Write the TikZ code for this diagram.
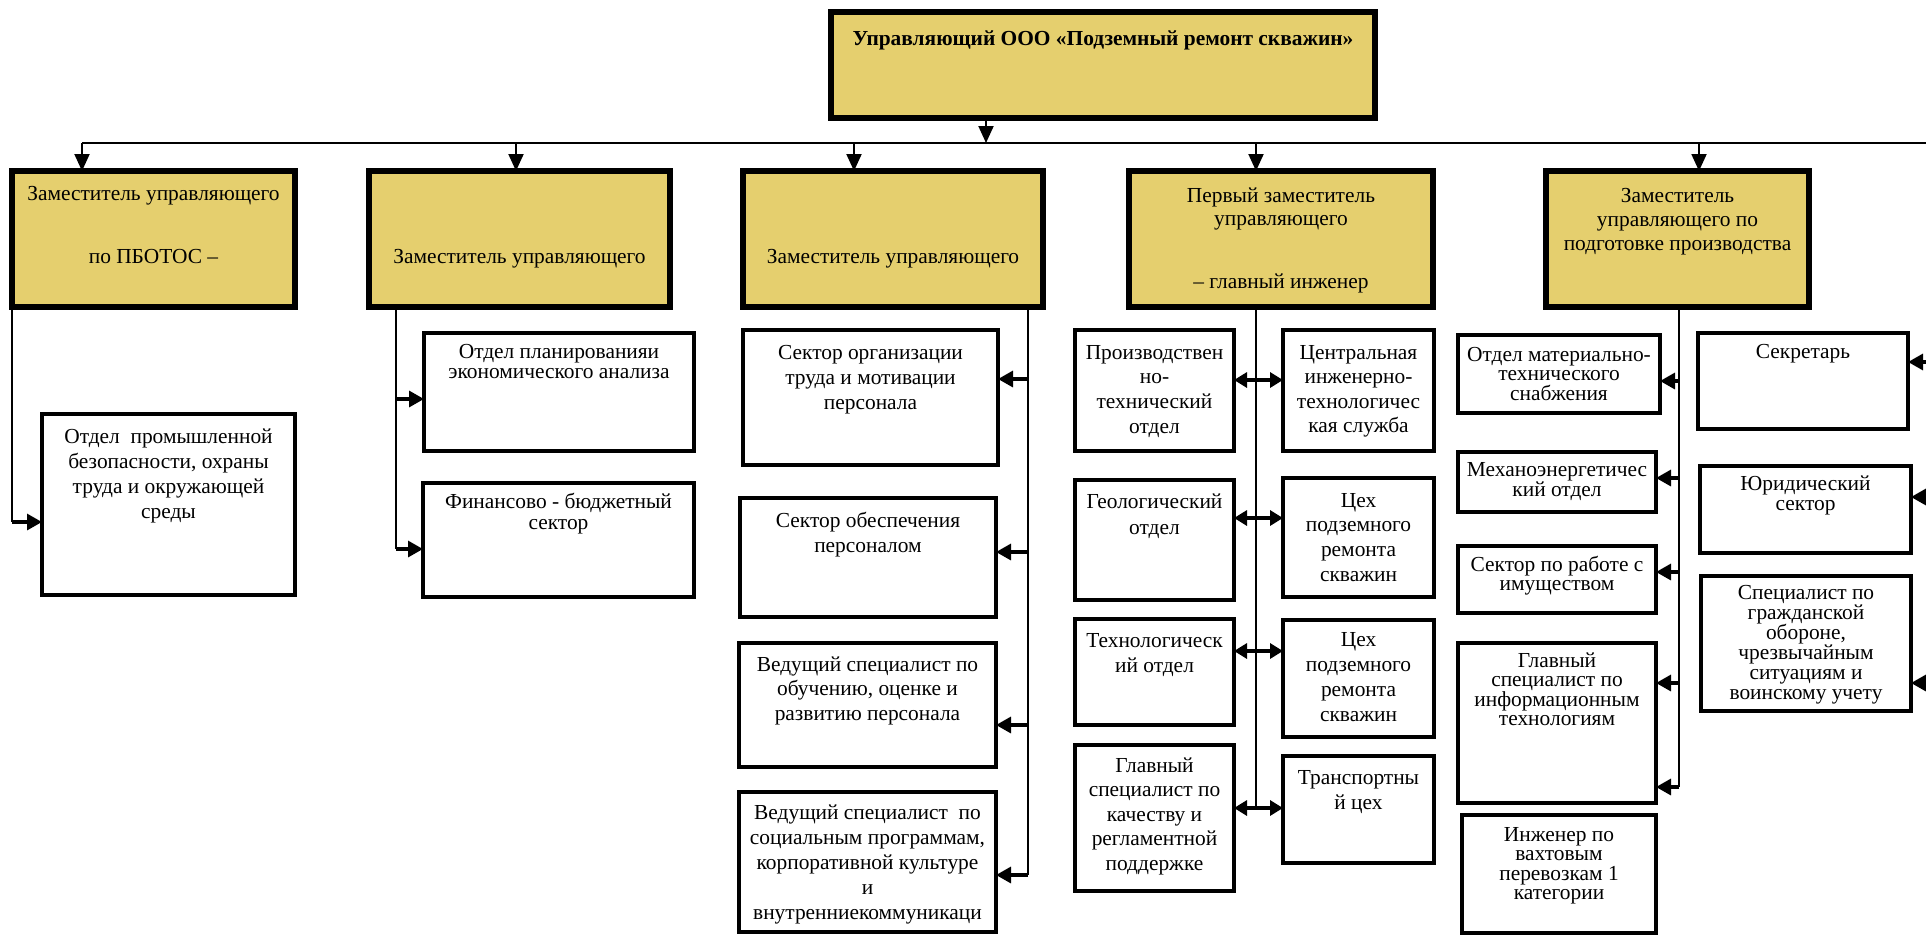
\documentclass[tikz,border=0pt]{standalone}
\usepackage{fontspec}
\setmainfont{Liberation Serif}
\usetikzlibrary{arrows.meta}
\definecolor{gold}{RGB}{229,207,110}
\tikzset{
 gbox/.style={draw=black, line width=6pt, fill=gold},
 wbox/.style={draw=black, line width=4.5pt, fill=white},
 busline/.style={line width=1.5pt},
 vthick/.style={line width=2.2pt},
 vthin/.style={line width=1.3pt},
 darr/.style={line width=2pt, -{Triangle[length=17pt,width=15pt]}},
 sarr/.style={line width=3.2pt, -{Triangle[length=15pt,width=16pt]}},
 dbl/.style={line width=3.2pt, {Triangle[length=13pt,width=15pt]}-{Triangle[length=13pt,width=15pt]}},
}
% style, name, x1, y1, x2, y2, first baseline, baselineskip, text
\newcommand\tbox[9]{%
 \node[#1, anchor=north west, inner sep=0pt, outer sep=0pt] (#2) at (#3,#4)
 {\parbox[t][\dimexpr #6pt-#4pt\relax][t]{\dimexpr #5pt-#3pt\relax}{\centering\lineskiplimit=-100pt\hyphenpenalty=10000\fontsize{21.4pt}{#8pt}\selectfont\vspace*{\dimexpr #7pt-#4pt-20pt\relax}\rule{0pt}{20pt}#9\par}};}
\begin{document}
\begin{tikzpicture}[x=1pt,y=-1pt]
\useasboundingbox (0,0) rectangle (1926,935);
% gold boxes
\tbox{gbox}{top}{831}{12}{1375}{118}{45}{25}{\textbf{Управляющий ООО «Подземный ремонт скважин»}}
\tbox{gbox}{g1}{12}{171}{295}{307}{200}{63}{Заместитель управляющего\\по ПБОТОС –}
\tbox{gbox}{g2}{369}{171}{670}{307}{263}{25}{Заместитель управляющего}
\tbox{gbox}{g3}{743}{171}{1043}{307}{263}{25}{Заместитель управляющего}
\tbox{gbox}{g4}{1129}{171}{1433}{307}{202}{23.5}{Первый заместитель\\управляющего\\[39pt]– главный инженер}
\tbox{gbox}{g5}{1546}{171}{1809}{307}{202}{24}{Заместитель\\управляющего по\\подготовке производства}
% column 1
\tbox{wbox}{p1}{42}{414}{295}{595}{443}{25}{Отдел\ \ промышленной\\безопасности, охраны\\труда и окружающей\\среды}
% column 2
\tbox{wbox}{p2a}{424}{333}{694}{451}{358}{20}{Отдел планированияи\\экономического анализа}
\tbox{wbox}{p2b}{423}{483}{694}{597}{508}{21}{Финансово - бюджетный\\сектор}
% column 3
\tbox{wbox}{p3a}{743}{330}{998}{465}{359}{25}{Сектор организации\\труда и мотивации\\персонала}
\tbox{wbox}{p3b}{740}{498}{996}{617}{527}{25}{Сектор обеспечения\\персоналом}
\tbox{wbox}{p3c}{739}{643}{996}{767}{671}{24.5}{Ведущий специалист по\\обучению, оценке и\\развитию персонала}
\tbox{wbox}{p3d}{739}{792}{996}{932}{819}{25}{Ведущий специалист\ \ по\\социальным программам,\\корпоративной культуре\\и\\внутренниекоммуникаци}
% column 4
\tbox{wbox}{p4a}{1075}{330}{1234}{451}{359}{24.7}{Производствен\\но-\\технический\\отдел}
\tbox{wbox}{q4a}{1283}{330}{1434}{451}{359}{24.5}{Центральная\\инженерно-\\технологичес\\кая служба}
\tbox{wbox}{p4b}{1075}{480}{1234}{600}{508}{26}{Геологический\\отдел}
\tbox{wbox}{q4b}{1283}{478}{1434}{597}{507}{24.7}{Цех\\подземного\\ремонта\\скважин}
\tbox{wbox}{p4c}{1075}{619}{1234}{725}{647}{25}{Технологическ\\ий отдел}
\tbox{wbox}{q4c}{1283}{620}{1434}{737}{646}{25}{Цех\\подземного\\ремонта\\скважин}
\tbox{wbox}{p4d}{1075}{745}{1234}{891}{772}{24.5}{Главный\\специалист по\\качеству и\\регламентной\\поддержке}
\tbox{wbox}{q4d}{1283}{756}{1434}{863}{784}{25}{Транспортны\\й цех}
% column 5
\tbox{wbox}{p5a}{1458}{335}{1660}{413}{361}{19.5}{Отдел материально-\\технического\\снабжения}
\tbox{wbox}{p5b}{1458}{452}{1656}{512}{476}{20}{Механоэнергетичес\\кий отдел}
\tbox{wbox}{p5c}{1458}{546}{1656}{613}{571}{19.5}{Сектор по работе с\\имуществом}
\tbox{wbox}{p5d}{1458}{643}{1656}{803}{667}{19.5}{Главный\\специалист по\\информационным\\технологиям}
\tbox{wbox}{p5e}{1462}{815}{1656}{933}{841}{19.5}{Инженер по\\вахтовым\\перевозкам 1\\категории}
\tbox{wbox}{q5a}{1698}{333}{1908}{429}{358}{20}{Секретарь}
\tbox{wbox}{q5b}{1700}{466}{1911}{553}{490}{20}{Юридический\\сектор}
\tbox{wbox}{q5c}{1701}{576}{1911}{711}{599}{20}{Специалист по\\гражданской\\обороне,\\чрезвычайным\\ситуациям и\\воинскому учету}
% bus
\coordinate (t0) at (986,143);
\coordinate (a1) at (82,143);
\coordinate (a2) at (516,143);
\coordinate (a3) at (854,143);
\coordinate (a4) at (1256,143);
\coordinate (a5) at (1699,143);
\coordinate (busR) at (1926,143);
\draw[busline] (a1) -- (busR);
\draw[darr] (t0 |- top.south) -- (t0);
\foreach \i in {1,...,5} {\draw[darr] (a\i) -- (a\i |- g\i.north);}
% column 1
\coordinate (j1) at (12,522);
\draw[vthick] (j1 |- g1.south) -- (j1);
\draw[sarr] (j1) -- (j1 -| p1.west);
% column 2
\coordinate (j2a) at (396,399);
\coordinate (j2b) at (396,549);
\draw[vthick] (j2a |- g2.south) -- (j2b);
\draw[sarr] (j2a) -- (j2a -| p2a.west);
\draw[sarr] (j2b) -- (j2b -| p2b.west);
% column 3
\coordinate (j3a) at (1028,379);
\coordinate (j3b) at (1028,552);
\coordinate (j3c) at (1028,725);
\coordinate (j3d) at (1028,875);
\draw[vthin] (j3a |- g3.south) -- (j3d);
\draw[sarr] (j3a) -- (j3a -| p3a.east);
\draw[sarr] (j3b) -- (j3b -| p3b.east);
\draw[sarr] (j3c) -- (j3c -| p3c.east);
\draw[sarr] (j3d) -- (j3d -| p3d.east);
% column 4
\coordinate (j4a) at (1256,380);
\coordinate (j4b) at (1256,518);
\coordinate (j4c) at (1256,651);
\coordinate (j4d) at (1256,808);
\draw[vthin] (j4a |- g4.south) -- (j4d);
\draw[dbl] (j4a -| p4a.east) -- (j4a -| q4a.west);
\draw[dbl] (j4b -| p4b.east) -- (j4b -| q4b.west);
\draw[dbl] (j4c -| p4c.east) -- (j4c -| q4c.west);
\draw[dbl] (j4d -| p4d.east) -- (j4d -| q4d.west);
% column 5
\coordinate (j5a) at (1679,381);
\coordinate (j5b) at (1679,478);
\coordinate (j5c) at (1679,572);
\coordinate (j5d) at (1679,683);
\coordinate (j5e) at (1679,787);
\draw[vthin] (j5a |- g5.south) -- (j5e);
\draw[sarr] (j5a) -- (j5a -| p5a.east);
\draw[sarr] (j5b) -- (j5b -| p5b.east);
\draw[sarr] (j5c) -- (j5c -| p5c.east);
\draw[sarr] (j5d) -- (j5d -| p5d.east);
\draw[sarr] (j5e) -- (j5e -| p5d.east);
% right side
\coordinate (r1) at (1926,362);
\coordinate (r2) at (1926,497);
\coordinate (r3) at (1926,683);
\draw[sarr] (r1) -- (r1 -| q5a.east);
\draw[sarr] (r2) -- (r2 -| q5b.east);
\draw[sarr] (r3) -- (r3 -| q5c.east);
\end{tikzpicture}
\end{document}
